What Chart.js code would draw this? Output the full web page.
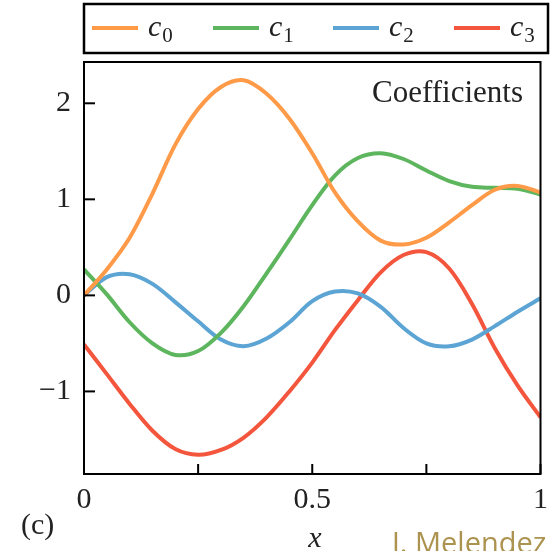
<!DOCTYPE html>
<html>
<head>
<meta charset="utf-8">
<script src="https://cdn.jsdelivr.net/npm/chart.js@4.4.1/dist/chart.umd.min.js"></script>
<style>
  html, body { margin: 0; padding: 0; background: #fff; }
  #wrap { width: 556px; height: 551px; position: relative; }
</style>
</head>
<body>
<div id="wrap"><canvas id="grafico" width="556" height="551"></canvas></div>
<script>
const xs = [0, 0.05, 0.1, 0.15, 0.2, 0.25, 0.3, 0.35, 0.4, 0.45, 0.5, 0.55, 0.6, 0.65, 0.7, 0.75, 0.8, 0.85, 0.9, 0.95, 1.0];
const c0 = [0, 0.27, 0.60, 1.06, 1.57, 1.94, 2.17, 2.24, 2.10, 1.84, 1.48, 1.07, 0.77, 0.57, 0.53, 0.60, 0.76, 0.94, 1.10, 1.14, 1.07];
const c1 = [0.27, 0.01, -0.28, -0.50, -0.62, -0.58, -0.39, -0.11, 0.23, 0.58, 0.94, 1.25, 1.43, 1.48, 1.42, 1.30, 1.19, 1.13, 1.12, 1.11, 1.05];
const c2 = [0.0, 0.19, 0.22, 0.12, -0.07, -0.27, -0.46, -0.53, -0.45, -0.28, -0.06, 0.04, 0.02, -0.12, -0.34, -0.50, -0.53, -0.46, -0.32, -0.17, -0.03];
const c3 = [-0.51, -0.82, -1.13, -1.41, -1.60, -1.66, -1.61, -1.48, -1.27, -1.00, -0.70, -0.36, -0.05, 0.24, 0.42, 0.45, 0.28, -0.09, -0.55, -0.94, -1.27];

const nombres = ['0', '1', '2', '3'];
const colores = ['#fe9a48', '#5db65d', '#5ba4d4', '#f4563d'];
const xTicks = [0, 0.25, 0.5, 0.75, 1];
const xEtiquetas = { 0: '0', 0.5: '0.5', 1: '1' };
const yTicks = [-1, 0, 1, 2];

const serif = "'Liberation Serif', 'DejaVu Serif', serif";

function serie(ys, i) {
  return {
    label: 'c' + nombres[i],
    data: xs.map((x, k) => ({ x: x, y: ys[k] })),
    borderColor: colores[i],
    borderWidth: 4,
    pointRadius: 0,
    tension: 0.33,
    fill: false
  };
}

const marco = {
  id: 'marco',
  afterDraw(chart) {
    const ctx = chart.ctx;
    const a = chart.chartArea;
    const sx = chart.scales.x;
    const sy = chart.scales.y;
    ctx.save();
    ctx.strokeStyle = '#000';
    ctx.lineWidth = 2;
    ctx.strokeRect(a.left, a.top, a.right - a.left, a.bottom - a.top);

    // ticks hacia dentro
    xTicks.forEach(v => {
      const px = sx.getPixelForValue(v);
      ctx.beginPath();
      ctx.moveTo(px, a.bottom);
      ctx.lineTo(px, a.bottom - 10);
      ctx.stroke();
    });
    yTicks.forEach(v => {
      const py = sy.getPixelForValue(v);
      ctx.beginPath();
      ctx.moveTo(a.left, py);
      ctx.lineTo(a.left + 11, py);
      ctx.stroke();
    });

    // texto "Coefficients"
    ctx.fillStyle = '#222';
    ctx.font = "31px " + serif;
    ctx.textAlign = 'right';
    ctx.textBaseline = 'alphabetic';
    ctx.fillText('Coefficients', 523, 102);

    // leyenda
    ctx.lineWidth = 2.5;
    ctx.strokeStyle = '#000';
    ctx.strokeRect(84, 4, 464, 49);
    const inicios = [92, 213, 333, 454];
    chart.data.datasets.forEach((ds, i) => {
      const x0 = inicios[i];
      ctx.strokeStyle = ds.borderColor;
      ctx.lineWidth = 4;
      ctx.beginPath();
      ctx.moveTo(x0, 28);
      ctx.lineTo(x0 + 46, 28);
      ctx.stroke();
      ctx.fillStyle = '#222';
      ctx.textAlign = 'left';
      ctx.font = "italic 30px " + serif;
      ctx.fillText('c', x0 + 56, 36);
      const w = ctx.measureText('c').width;
      ctx.font = "21px " + serif;
      ctx.fillText(nombres[i], x0 + 57 + w, 42);
    });

    // etiquetas
    ctx.fillStyle = '#222';
    ctx.font = "italic 30px " + serif;
    ctx.textAlign = 'center';
    ctx.fillText('x', 315, 547);
    ctx.font = "30px " + serif;
    ctx.textAlign = 'left';
    ctx.fillText('(c)', 21, 534);

    ctx.fillStyle = '#ad9350';
    ctx.font = "29px 'Open Sans', 'Noto Sans', sans-serif";
    ctx.fillText('J. Melendez', 392, 553);
    ctx.restore();
  }
};

const ctx = document.getElementById('grafico').getContext('2d');
new Chart(ctx, {
  type: 'line',
  data: {
    datasets: [serie(c0, 0), serie(c1, 1), serie(c2, 2), serie(c3, 3)]
  },
  options: {
    responsive: false,
    animation: false,
    layout: { padding: { left: 0, right: 10, top: 62, bottom: 37 } },
    plugins: { legend: { display: false }, tooltip: { enabled: false } },
    scales: {
      x: {
        type: 'linear',
        min: 0,
        max: 1,
        afterBuildTicks: s => { s.ticks = xTicks.map(v => ({ value: v })); },
        afterFit: s => { s.height = 40; },
        grid: { display: false, drawTicks: false },
        border: { display: false },
        ticks: {
          padding: 8,
          maxRotation: 0,
          autoSkip: false,
          color: '#222',
          font: { family: serif, size: 30 },
          callback: v => (xEtiquetas[v] !== undefined ? xEtiquetas[v] : '')
        }
      },
      y: {
        type: 'linear',
        min: -1.86,
        max: 2.43,
        afterBuildTicks: s => { s.ticks = yTicks.map(v => ({ value: v })); },
        afterFit: s => { s.width = 84; },
        grid: { display: false, drawTicks: false },
        border: { display: false },
        ticks: {
          padding: 13,
          color: '#222',
          font: { family: serif, size: 30 },
          callback: v => (v < 0 ? '\u2212' + Math.abs(v) : String(v))
        }
      }
    }
  },
  plugins: [marco]
});
</script>
</body>
</html>
